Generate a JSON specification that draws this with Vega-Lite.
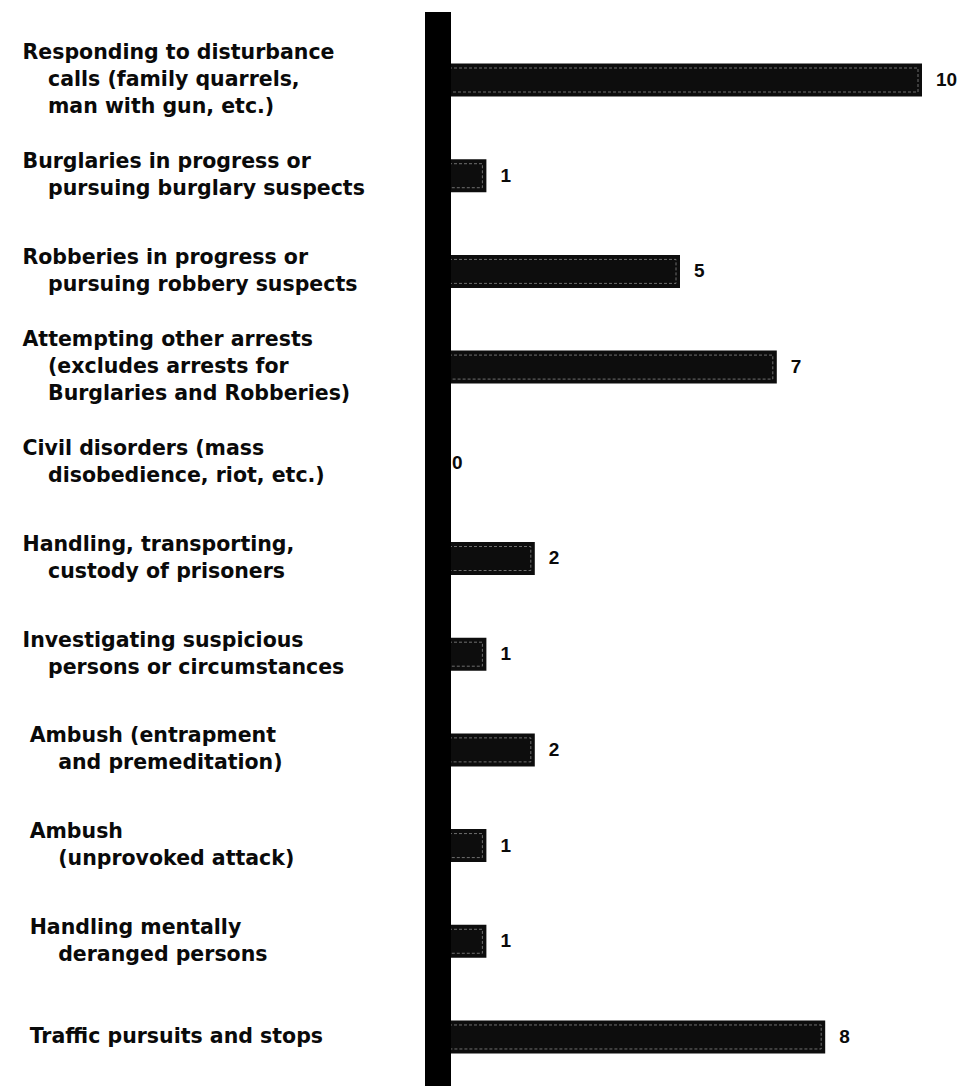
{
  "$schema": "https://vega.github.io/schema/vega-lite/v6.json",
  "width": 484,
  "height": 1074,
  "autosize": {"type": "none"},
  "padding": {"left": 438, "top": 12, "right": 42, "bottom": 0},
  "background": "white",
  "config": {"view": {"stroke": null}},
  "data": {"values": [
    {"cause": "Responding to disturbance|\u200b\u00a0\u00a0\u00a0\u2009calls (family quarrels,|\u200b\u00a0\u00a0\u00a0\u2009man with gun, etc.)", "count": 10},
    {"cause": "Burglaries in progress or|\u200b\u00a0\u00a0\u00a0\u2009pursuing burglary suspects", "count": 1},
    {"cause": "Robberies in progress or|\u200b\u00a0\u00a0\u00a0\u2009pursuing robbery suspects", "count": 5},
    {"cause": "Attempting other arrests|\u200b\u00a0\u00a0\u00a0\u2009(excludes arrests for|\u200b\u00a0\u00a0\u00a0\u2009Burglaries and Robberies)", "count": 7},
    {"cause": "Civil disorders (mass|\u200b\u00a0\u00a0\u00a0\u2009disobedience, riot, etc.)", "count": 0},
    {"cause": "Handling, transporting,|\u200b\u00a0\u00a0\u00a0\u2009custody of prisoners", "count": 2},
    {"cause": "Investigating suspicious|\u200b\u00a0\u00a0\u00a0\u2009persons or circumstances", "count": 1},
    {"cause": "\u200b\u00a0Ambush (entrapment|\u200b\u00a0\u00a0\u00a0\u00a0\u00a0and premeditation)", "count": 2},
    {"cause": "\u200b\u00a0Ambush|\u200b\u00a0\u00a0\u00a0\u00a0\u00a0(unprovoked attack)", "count": 1},
    {"cause": "\u200b\u00a0Handling mentally|\u200b\u00a0\u00a0\u00a0\u00a0\u00a0deranged persons", "count": 1},
    {"cause": "\u200b\u00a0Traffic pursuits and stops", "count": 8}
  ]},
  "encoding": {
    "y": {
      "field": "cause",
      "type": "nominal",
      "sort": null,
      "scale": {"paddingInner": 0.655, "paddingOuter": 0.439, "align": 0.613},
      "axis": {
        "title": null,
        "domain": false,
        "ticks": false,
        "tickSize": 0,
        "labelPadding": 416,
        "labelAlign": "left",
        "labelBaseline": "middle",
        "labelExpr": "split(datum.label, '|')",
        "labelFont": "DejaVu Sans",
        "labelFontWeight": "bold",
        "labelFontSize": 20.5,
        "labelLineHeight": 27,
        "labelLimit": 430,
        "labelOffset": {"expr": "-13.5 * (length(split(datum.value, '|')) - 1)"},
        "labelColor": "#0a0a0a",
        "labelOverlap": false
      }
    },
    "x": {
      "field": "count",
      "type": "quantitative",
      "scale": {"domain": [0, 10], "nice": false, "zero": true},
      "axis": null
    }
  },
  "layer": [
    {"mark": {"type": "bar", "color": "#0d0d0d"}},
    {
      "transform": [{"filter": "datum.count > 0"}],
      "mark": {"type": "bar", "fill": null, "fillOpacity": 0, "stroke": "#9a9a9a", "strokeWidth": 0.7, "strokeDash": [3, 2], "xOffset": -4, "x2Offset": 16, "size": 24}
    },
    {
      "mark": {"type": "rule", "color": "#000000", "strokeWidth": 25},
      "encoding": {"x": {"datum": 0}, "y": null}
    },
    {
      "mark": {"type": "text", "align": "left", "baseline": "middle", "dx": 14, "font": "Liberation Sans", "fontWeight": "bold", "fontSize": 19, "color": "#0a0a0a"},
      "encoding": {"text": {"field": "count", "type": "quantitative"}}
    }
  ]
}
